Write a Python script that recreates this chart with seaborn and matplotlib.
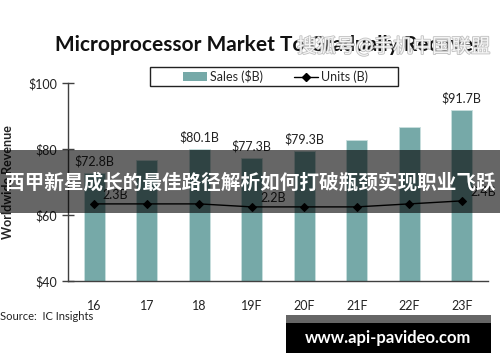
"""
Microprocessor market chart: sales bars with units line on a hidden second axis.
"""

import matplotlib
matplotlib.use("Agg")
import matplotlib.pyplot as plt
import matplotlib.patheffects as pe
from matplotlib.lines import Line2D
from matplotlib.patches import Patch, Rectangle
import pandas as pd
import seaborn as sns

years = ["16", "17", "18", "19F", "20F", "21F", "22F", "23F"]
sales = [72.8, 76.6, 80.1, 77.3, 79.3, 82.6, 86.6, 91.7]
units = [2.3, 2.3, 2.3, 2.2, 2.2, 2.2, 2.3, 2.4]
sales_labels = ["$72.8B", "", "$80.1B", "$77.3B", "$79.3B", "", "", "$91.7B"]
unit_labels = ["2.3B", "", "", "2.2B", "", "", "", "2.4B"]
y_ticks = [40, 60, 80, 100]

BAR_COLOR = "#76a9a8"
AXIS_COLOR = "#404040"

sns.set_style("white")
plt.rcParams["font.family"] = ["Lato", "Noto Sans CJK SC", "DejaVu Sans"]

df = pd.DataFrame({"year": years, "sales": sales, "units": units})

fig = plt.figure(figsize=(5, 3.62), dpi=100)
ax = fig.add_axes([0.136, 0.2238, 0.84, 0.5469])

sns.barplot(data=df, x="year", y="sales", order=years, color=BAR_COLOR,
            width=0.4, saturation=1, edgecolor="#c9dfde", linewidth=0.6, ax=ax)
ax.set_xlim(-0.5, len(years) - 0.5)
ax.set_ylim(40, 100)

# sales data labels
for i, lab in enumerate(sales_labels):
    if lab:
        ax.annotate(lab, (i, sales[i]), xytext=(0, 4), textcoords="offset points",
                    ha="center", va="bottom", fontsize=9, color="#222222")

# axes styling
for side in ["top", "right"]:
    ax.spines[side].set_visible(False)
for side in ["left", "bottom"]:
    ax.spines[side].set_color(AXIS_COLOR)
    ax.spines[side].set_linewidth(1.0)

ax.set_yticks(y_ticks)
ax.set_yticklabels([f"${t}" for t in y_ticks], fontsize=9, color="#222222")
ax.tick_params(axis="y", direction="inout", length=8, width=1, color=AXIS_COLOR, pad=4)

ax.set_xticks([i - 0.5 for i in range(len(years) + 1)])
ax.set_xticklabels([])
ax.set_xticks(range(len(years)), minor=True)
ax.set_xticklabels(years, minor=True, fontsize=9, color="#222222")
ax.tick_params(axis="x", which="major", direction="inout", length=8, width=1, color=AXIS_COLOR)
ax.tick_params(axis="x", which="minor", length=0, pad=14)
ax.set_xlabel("")
ax.set_ylabel("Worldwide Revenue", fontsize=9, fontweight="bold", labelpad=10)

# units on hidden secondary axis
ax2 = ax.twinx()
sns.lineplot(data=df, x="year", y="units", color="black", linewidth=1,
             marker="D", markersize=4, markeredgecolor="black", ax=ax2)
ax2.set_ylim(-0.27, 6.33)
ax2.axis("off")
for i, lab in enumerate(unit_labels):
    if lab:
        ax2.annotate(lab, (i, units[i]), xytext=(6, 2), textcoords="offset points",
                     ha="left", va="bottom", fontsize=9, color="#222222")

# legend, with a wider box drawn separately like the original
handles = [
    Patch(facecolor=BAR_COLOR, edgecolor="none"),
    Line2D([0], [0], color="black", lw=1, marker="D", markersize=4),
]
fig.legend(handles, ["Sales ($B)", "Units (B)"], loc="center",
           bbox_to_anchor=(0.551, 0.789), ncol=2, fontsize=9, frameon=False,
           handlelength=1.9, columnspacing=2.5, handletextpad=0.25)
fig.patches.append(Rectangle((150 / 500, 1 - 86 / 362), 248 / 500, 19 / 362,
                             transform=fig.transFigure, facecolor="none",
                             edgecolor="#222222", linewidth=1.0))

fig.text(0.536, 0.876, "Microprocessor Market To Gradually Recover",
         ha="center", va="center", fontsize=15, fontweight="bold", color="#111111")
fig.text(0.0, 0.125, "Source:  IC Insights", ha="left", va="center",
         fontsize=8, color="#222222")

# overlays on the picture
fig.patches.append(Rectangle((0, 1 - 213 / 362), 1, 63 / 362, transform=fig.transFigure,
                             facecolor="black", alpha=0.6, edgecolor="none", zorder=10))
fig.text(0.5, 1 - 183 / 362, "西甲新星成长的最佳路径解析如何打破瓶颈实现职业飞跃",
         ha="center", va="center", fontsize=14.1, fontweight="bold", color="white",
         family=["Noto Sans CJK SC", "DejaVu Sans"], zorder=11)

fig.patches.append(Rectangle((286 / 500, 1 - 323 / 362), 205 / 500, 8 / 362,
                             transform=fig.transFigure, facecolor="#666666",
                             edgecolor="none", zorder=10))
fig.patches.append(Rectangle((286 / 500, 1 - 353 / 362), 205 / 500, 30 / 362,
                             transform=fig.transFigure, facecolor="black",
                             edgecolor="none", zorder=10))
fig.text(388 / 500, 1 - 338 / 362, "www.api-pavideo.com", ha="center", va="center",
         fontsize=12, fontweight="bold", color="white", zorder=11)

wm = fig.text(394 / 500, 1 - 47 / 362, "搜狐号@手机中国联盟", ha="center", va="center",
              fontsize=14, color="white", alpha=0.85,
              family=["Noto Sans CJK SC", "DejaVu Sans"], zorder=11)
wm.set_path_effects([pe.withStroke(linewidth=1.2, foreground="#b5b5b5")])

fig.savefig("out.png", dpi=100)
